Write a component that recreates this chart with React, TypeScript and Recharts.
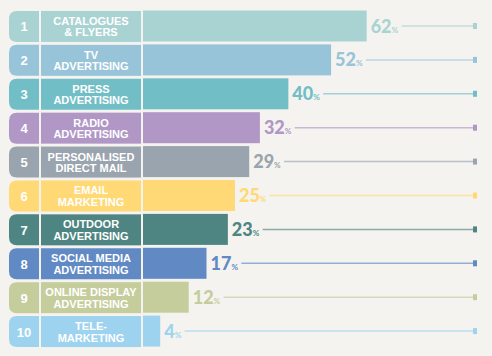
import React from 'react';
import { BarChart, Bar, XAxis, YAxis, LabelList } from 'recharts';

const ranks = [1, 2, 3, 4, 5, 6, 7, 8, 9, 10];
const channelLines = [
  ['CATALOGUES', '& FLYERS'],
  ['TV', 'ADVERTISING'],
  ['PRESS', 'ADVERTISING'],
  ['RADIO', 'ADVERTISING'],
  ['PERSONALISED', 'DIRECT MAIL'],
  ['EMAIL', 'MARKETING'],
  ['OUTDOOR', 'ADVERTISING'],
  ['SOCIAL MEDIA', 'ADVERTISING'],
  ['ONLINE DISPLAY', 'ADVERTISING'],
  ['TELE-', 'MARKETING'],
];
const shares = [62, 52, 40, 32, 29, 25, 23, 17, 12, 4];
const colors = [
  '#a9d3d3',
  '#98c4da',
  '#72bec7',
  '#b097c6',
  '#9aa4ae',
  '#fed976',
  '#4e8582',
  '#618ac5',
  '#c5cd9c',
  '#9dd3ef',
];

const CHART_W = 492;
const CHART_H = 356;
const MARGIN = { top: 9.5, right: 15, bottom: 7.5, left: 0 };
const ROW_H = 31;
const FONT = '"Liberation Sans", Arial, sans-serif';

const rows = ranks.map((rank, i) => ({
  name: channelLines[i].join(' '),
  rank,
  lines: channelLines[i],
  share: shares[i],
  color: colors[i],
}));

const RowTick = (props: any) => {
  const { x, y, index } = props;
  const row = rows[index];
  if (!row) return null;
  const top = y - ROW_H / 2;
  const bottom = top + ROW_H;
  const tabL = x - 137;
  const tabR = x - 107;
  const r = 8;
  const tabPath = `M${tabR},${top} H${tabL + r} Q${tabL},${top} ${tabL},${top + r} V${bottom - r} Q${tabL},${bottom} ${tabL + r},${bottom} H${tabR} Z`;
  const boxL = x - 105;
  const boxW = 100;
  return (
    <g>
      <path d={tabPath} fill={row.color} />
      <text x={(tabL + tabR) / 2} y={y + 5} textAnchor="middle" fill="#fff" fontFamily={FONT} fontWeight={700} fontSize={13}>
        {row.rank}
      </text>
      <rect x={boxL} y={top} width={boxW} height={ROW_H} fill={row.color} />
      <text textAnchor="middle" fill="#fff" fontFamily={FONT} fontWeight={700} fontSize={11}>
        <tspan x={boxL + boxW / 2} y={y - 1.5}>{row.lines[0]}</tspan>
        <tspan x={boxL + boxW / 2} y={y + 10}>{row.lines[1]}</tspan>
      </text>
    </g>
  );
};

const BarShape = (props: any) => {
  const { x, y, width, height, payload } = props;
  return <rect x={x - 3} y={y} width={width + 3} height={height} fill={payload.color} />;
};

const ValueLabel = (props: any) => {
  const { x, y, width, height, value, index } = props;
  const color = colors[index];
  const cy = y + height / 2;
  const tx = x + width + 4;
  const digitsW = String(value).length * 10.4;
  const lineStart = tx + digitsW + 10;
  const right = CHART_W - MARGIN.right;
  return (
    <g>
      <text x={tx} y={cy + 6.5} fill={color} fontFamily="Lato, sans-serif">
        <tspan fontWeight={900} fontSize={18}>{value}</tspan>
        <tspan fontWeight={700} fontSize={8}>%</tspan>
      </text>
      <line x1={lineStart} x2={right - 4} y1={cy} y2={cy} stroke={color} strokeOpacity={0.65} strokeWidth={1.5} />
      <rect x={right - 4} y={cy - 3} width={4} height={6} fill={color} />
    </g>
  );
};

export default function App() {
  return (
    <div style={{ position: 'absolute', left: 0, top: 0, width: CHART_W, height: CHART_H, background: '#f5f3ef' }}>
      <BarChart width={CHART_W} height={CHART_H} data={rows} layout="vertical" margin={MARGIN} barSize={ROW_H}>
        <XAxis type="number" domain={[0, 93]} hide />
        <YAxis
          type="category"
          dataKey="name"
          width={146}
          tickLine={false}
          axisLine={false}
          tickSize={0}
          tickMargin={0}
          tick={<RowTick />}
          interval={0}
        />
        <Bar dataKey="share" shape={<BarShape />} isAnimationActive={false}>
          <LabelList dataKey="share" content={<ValueLabel />} />
        </Bar>
      </BarChart>
    </div>
  );
}
